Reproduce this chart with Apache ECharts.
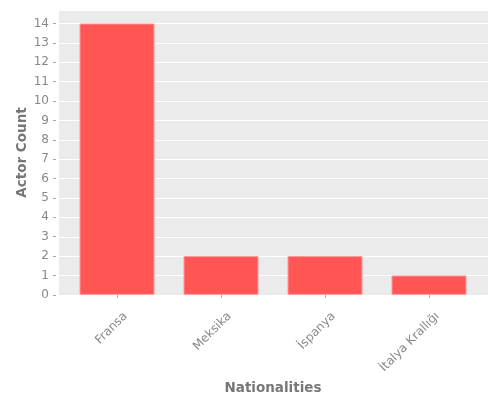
<!DOCTYPE html>
<html>
<head>
<meta charset="utf-8">
<script src="https://cdn.jsdelivr.net/npm/echarts@6/dist/echarts.min.js"></script>
<style>
  html, body { margin: 0; padding: 0; background: #fff; }
  #chart { width: 500px; height: 400px; }
</style>
</head>
<body>
<div id="chart"></div>
<script>
// 国籍 / 演员数量
const nationalities = ["Fransa", "Meksika", "İspanya", "İtalya Krallığı"];
const actorCounts = [14, 2, 2, 1];

const myChart = echarts.init(document.getElementById("chart"));

const option = {
  animation: false,
  textStyle: { fontFamily: "DejaVu Sans" },
  grid: [
    // 背景网格
    { left: 59, right: 12, top: 10, bottom: 105, show: true, backgroundColor: "#EBEBEB", borderWidth: 0 },
    // 柱状图网格
    { left: 65, right: 19, top: 23.5, bottom: 105 }
  ],
  xAxis: [
    { gridIndex: 0, type: "value", show: false, splitLine: { show: false } },
    {
      gridIndex: 1,
      type: "category",
      data: nationalities,
      name: "Nationalities",
      nameLocation: "middle",
      nameGap: 82,
      nameTextStyle: { color: "#777", fontSize: 13.5, fontWeight: "bold" },
      offset: 3,
      axisLine: { show: false },
      axisTick: { show: true, alignWithLabel: true, length: 3, lineStyle: { color: "#aaa" } },
      axisLabel: {
        rotate: 45, color: "#888", fontSize: 12, margin: 25,
        padding: [0, -12, 0, 0]
      }
    }
  ],
  yAxis: [
    {
      gridIndex: 0, type: "value", min: 0, max: 14.7, interval: 1,
      name: "Actor Count",
      nameLocation: "middle",
      nameGap: 30,
      nameTextStyle: { color: "#777", fontSize: 13.5, fontWeight: "bold" },
      axisLine: { show: false }, axisTick: { show: false }, axisLabel: { show: false },
      splitLine: { show: true, lineStyle: { color: "#fff", width: 1 } }
    },
    {
      gridIndex: 1, type: "value", min: 0, max: 14, interval: 1,
      offset: 9,
      axisLine: { show: false },
      splitLine: { show: false },
      axisTick: { show: true, length: 3, lineStyle: { color: "#aaa" } },
      axisLabel: { color: "#888", fontSize: 12, margin: 7 }
    }
  ],
  series: [{
    type: "bar",
    xAxisIndex: 1,
    yAxisIndex: 1,
    data: actorCounts,
    barWidth: 75,
    itemStyle: { color: "#FF5555", borderColor: "#FF9999", borderWidth: 1 }
  }]
};

myChart.setOption(option);
</script>
</body>
</html>
